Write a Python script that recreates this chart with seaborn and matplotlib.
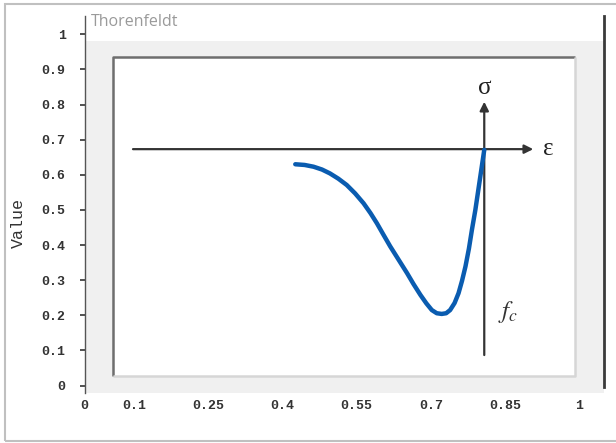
import numpy as np
import pandas as pd
import matplotlib
matplotlib.use("Agg")
import matplotlib.pyplot as plt
import seaborn as sns
from matplotlib.patches import Rectangle

# curve (strain-like axis, 0..1 scale of the plot)
curve_x = [0.426, 0.445, 0.463, 0.480, 0.496, 0.513, 0.530, 0.547, 0.564, 0.578,
           0.591, 0.604, 0.618, 0.635, 0.652, 0.665, 0.679, 0.691, 0.702, 0.712,
           0.722, 0.731, 0.739, 0.748, 0.756, 0.763, 0.770, 0.777, 0.783, 0.790,
           0.796, 0.802, 0.808]
curve_y = [0.630, 0.628, 0.623, 0.615, 0.604, 0.589, 0.571, 0.547, 0.519, 0.491,
           0.462, 0.430, 0.396, 0.358, 0.320, 0.289, 0.258, 0.234, 0.215, 0.206,
           0.204, 0.206, 0.215, 0.235, 0.263, 0.298, 0.339, 0.390, 0.443, 0.500,
           0.557, 0.614, 0.671]

x_ticks = [0, 0.1, 0.25, 0.4, 0.55, 0.7, 0.85, 1]
x_labels = ["0", "0.1", "0.25", "0.4", "0.55", "0.7", "0.85", "1"]
y_ticks = [0, 0.1, 0.2, 0.3, 0.4, 0.5, 0.6, 0.7, 0.8, 0.9, 1]
y_labels = ["0", "0.1", "0.2", "0.3", "0.4", "0.5", "0.6", "0.7", "0.8", "0.9", "1"]

# sketch axes of the diagram
eps_axis_y = 0.673
eps_axis_x = [0.098, 0.907]
sig_axis_x = 0.808
sig_axis_y = [0.087, 0.808]

df = pd.DataFrame({"strain": curve_x, "stress": curve_y})

sns.set_style("white")
plt.rcParams["font.family"] = ["Liberation Mono", "DejaVu Sans"]

fig = plt.figure(figsize=(6.16, 4.43), dpi=100)
ax = fig.add_axes([0.1372, 0.1129, 0.8433, 0.851])
ax.set_xlim(0, 1.05)
ax.set_ylim(-0.021, 1.052)

# grey panel with inset white box
ax.add_patch(Rectangle((0, -0.021), 1.05, 1.002, facecolor="#f0f0f0",
                       edgecolor="none", zorder=0))
ax.add_patch(Rectangle((0.0566, 0.0276), 0.934, 0.907, facecolor="white",
                       edgecolor="none", zorder=0.5))
ax.plot([0.0566, 0.0566, 0.9906], [0.0276, 0.935, 0.935], color="#6e6e6e",
        lw=1.8, zorder=0.6, solid_capstyle="butt")
ax.plot([0.0566, 0.9906, 0.9906], [0.0276, 0.0276, 0.935], color="#d6d6d6",
        lw=1.8, zorder=0.6, solid_capstyle="butt")

# diagram axes
ax.annotate("", xy=(eps_axis_x[1], eps_axis_y), xytext=(eps_axis_x[0], eps_axis_y),
            arrowprops=dict(arrowstyle="-|>", color="#333333", lw=1.6,
                            mutation_scale=13, shrinkA=0, shrinkB=0), zorder=2)
ax.annotate("", xy=(sig_axis_x, sig_axis_y[1]), xytext=(sig_axis_x, sig_axis_y[0]),
            arrowprops=dict(arrowstyle="-|>", color="#333333", lw=1.6,
                            mutation_scale=13, shrinkA=0, shrinkB=0), zorder=2)

sns.lineplot(data=df, x="strain", y="stress", sort=False, color="#0a5cb0",
             lw=3.2, ax=ax, zorder=3)

ax.text(sig_axis_x, 0.848, "σ", family="Liberation Serif", fontsize=18,
        ha="center", va="center", color="#222222")
ax.text(0.937, eps_axis_y, "ε", family="Liberation Serif", fontsize=18,
        ha="center", va="center", color="#222222")
ax.text(0.857, 0.21, "$f_c$", fontsize=18, ha="center", va="center",
        color="#333333", math_fontfamily="stix")
ax.text(0.0125, 1.034, "Thorenfeldt", family="Open Sans", fontsize=11.5,
        color="#9a9a9a", ha="left", va="center")

ax.set_xticks(x_ticks, x_labels)
ax.set_yticks(y_ticks, y_labels)
ax.tick_params(axis="y", left=True, direction="out", length=3.6, width=1.2,
               color="#333333", pad=10, labelsize=9.5, labelcolor="#333333")
ax.tick_params(axis="x", bottom=False, length=0, pad=5, labelsize=9.5,
               labelcolor="#333333")
for lab in ax.get_xticklabels() + ax.get_yticklabels():
    lab.set_fontweight("bold")

ax.set_xlabel("")
ax.set_ylabel("Value", fontsize=12, color="#333333")
ax.yaxis.set_label_coords(-0.113, 0.45)

for s in ["top", "bottom"]:
    ax.spines[s].set_visible(False)
ax.spines["left"].set_color("#555555")
ax.spines["left"].set_linewidth(1.0)
ax.spines["right"].set_color("#3a3a3a")
ax.spines["right"].set_linewidth(2.0)
ax.spines["right"].set_bounds(-0.004, 1.052)

# outer frame of the picture
fig.add_artist(Rectangle((5 / 616, 2 / 443), 1.0, 1 - 6 / 443, transform=fig.transFigure,
                         fill=False, edgecolor="#c0c0c0", lw=1.5))

fig.savefig("out.png", dpi=100)
